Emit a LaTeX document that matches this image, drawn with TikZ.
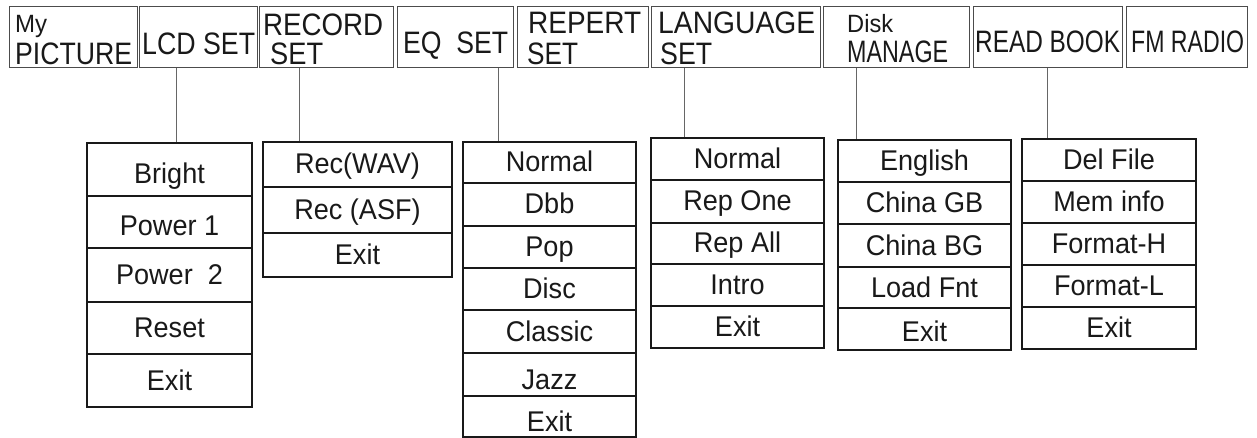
\documentclass[tikz,border=0pt]{standalone}
\usepackage{fontspec}
\usepackage{graphicx}
\setmainfont{Liberation Sans}
\newfontfamily\topfont{Liberation Sans}
\newfontfamily\subfont{Liberation Sans}[FakeStretch=0.95]
\usetikzlibrary{calc}
\tikzset{
  topbox/.style={draw=black!70, line width=1pt, inner sep=0pt},
  toptext/.style={anchor=base west, inner sep=0pt, font=\topfont\fontsize{31}{31}\selectfont, text=black!90},
  smalltop/.style={toptext, font=\topfont\fontsize{25}{25}\selectfont},
  cell/.style={draw=black!90, line width=1.2pt, inner sep=0pt, text height=19pt, text depth=0pt,
    font=\subfont\fontsize{28.5}{28.5}\selectfont, text=black!90},
  conn/.style={draw=black!60, line width=0.8pt}
}
\newcommand\tw[2]{\resizebox{#1pt}{\height}{#2}}
\newcommand\tbox[5]{\node[topbox, minimum width={(#3)-(#2)}, minimum height={(#5)-(#4)}] (#1) at ({((#2)+(#3))/2},{((#4)+(#5))/2}) {};}
\newcommand\mcell[6]{\node[cell, minimum width={(#4)-(#2)}, minimum height={(#5)-(#3)}] (#1) at ({((#2)+(#4))/2},{((#3)+(#5))/2}) {#6};}
\begin{document}
\begin{tikzpicture}[x=1pt,y=-1pt]
\useasboundingbox[fill=white] (0,0) rectangle (1257,438);
% top menu
\tbox{t1}{9}{137}{7}{68}
\tbox{t2}{139}{257}{7}{68}
\tbox{t3}{259}{393}{7}{68}
\tbox{t4}{397}{513}{7}{68}
\tbox{t5}{517}{648}{7}{68}
\tbox{t6}{651}{820}{7}{68}
\tbox{t7}{823}{969}{7}{68}
\tbox{t8}{973}{1122}{7}{68}
\tbox{t9}{1126}{1247}{7}{68}
\node[smalltop] (x1a) at (15,33) {\tw{32}{My}};
\node[toptext] (x1b) at (15,65) {\tw{117}{PICTURE}};
\node[toptext] (x2) at (142,55) {\tw{113}{LCD SET}};
\node[toptext] (x3a) at (263,36) {\tw{120}{RECORD}};
\node[toptext] (x3b) at (270,65) {\tw{53}{SET}};
\node[toptext] (x4) at (403,54) {\tw{105}{EQ\ \ SET}};
\node[toptext] (x5a) at (528,34) {\tw{113}{REPERT}};
\node[toptext] (x5b) at (527,65) {\tw{51}{SET}};
\node[toptext] (x6a) at (658,34) {\tw{157}{LANGUAGE}};
\node[toptext] (x6b) at (660,65) {\tw{52}{SET}};
\node[smalltop] (x7a) at (847,33) {\tw{46}{Disk}};
\node[toptext] (x7b) at (847,63) {\tw{101}{MANAGE}};
\node[toptext] (x8) at (975,53) {\tw{145}{READ BOOK}};
\node[toptext] (x9) at (1131,53) {\tw{113}{FM RADIO}};
% column 1
\mcell{a1}{87}{143}{252}{196}{\raisebox{-5pt}{Bright}}
\mcell{a2}{87}{196}{252}{248}{\raisebox{-4pt}{Power 1}}
\mcell{a3}{87}{248}{252}{302}{Power\ \ 2}
\mcell{a4}{87}{302}{252}{354}{Reset}
\mcell{a5}{87}{354}{252}{407}{Exit}
% column 2
\mcell{b1}{263}{142}{452}{187}{Rec(WAV)}
\mcell{b2}{263}{187}{452}{233}{Rec (ASF)}
\mcell{b3}{263}{233}{452}{277}{Exit}
% column 3
\mcell{c1}{463}{142}{636}{183}{Normal}
\mcell{c2}{463}{183}{636}{226}{Dbb}
\mcell{c3}{463}{226}{636}{268}{Pop}
\mcell{c4}{463}{268}{636}{310}{Disc}
\mcell{c5}{463}{310}{636}{353}{Classic}
\mcell{c6}{463}{353}{636}{396}{\raisebox{-5pt}{Jazz}}
\mcell{c7}{463}{396}{636}{437}{\raisebox{-5pt}{Exit}}
% column 4
\mcell{d1}{651}{138}{824}{180}{Normal}
\mcell{d2}{651}{180}{824}{223}{Rep One}
\mcell{d3}{651}{223}{824}{264}{Rep All}
\mcell{d4}{651}{264}{824}{306}{Intro}
\mcell{d5}{651}{306}{824}{348}{Exit}
% column 5
\mcell{e1}{838}{140}{1011}{182}{English}
\mcell{e2}{838}{182}{1011}{224}{China GB}
\mcell{e3}{838}{224}{1011}{267}{China BG}
\mcell{e4}{838}{267}{1011}{308}{Load Fnt}
\mcell{e5}{838}{308}{1011}{350}{\raisebox{-3pt}{Exit}}
% column 6
\mcell{f1}{1022}{139}{1196}{181}{Del File}
\mcell{f2}{1022}{181}{1196}{223}{Mem info}
\mcell{f3}{1022}{223}{1196}{265}{Format-H}
\mcell{f4}{1022}{265}{1196}{307}{Format-L}
\mcell{f5}{1022}{307}{1196}{349}{Exit}
% connectors
\coordinate (k2) at ($(t2.south west)+(38,0)$);
\coordinate (k3) at ($(t3.south west)+(41,0)$);
\coordinate (k4) at ($(t4.south west)+(102,0)$);
\coordinate (k6) at ($(t6.south west)+(34,0)$);
\coordinate (k7) at ($(t7.south west)+(34,0)$);
\coordinate (k8) at ($(t8.south west)+(75,0)$);
\draw[conn] (k2) -- (k2 |- a1.north);
\draw[conn] (k3) -- (k3 |- b1.north);
\draw[conn] (k4) -- (k4 |- c1.north);
\draw[conn] (k6) -- (k6 |- d1.north);
\draw[conn] (k7) -- (k7 |- e1.north);
\draw[conn] (k8) -- (k8 |- f1.north);
\end{tikzpicture}
\end{document}
